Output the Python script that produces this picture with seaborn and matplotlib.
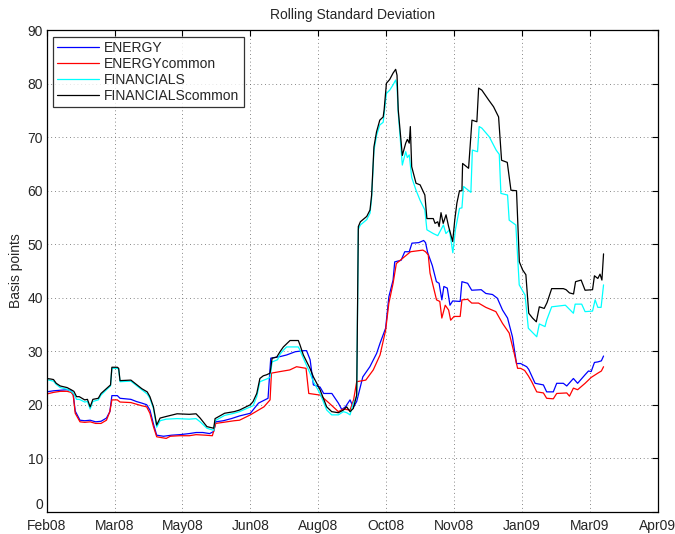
import numpy as np
import pandas as pd
import matplotlib
matplotlib.use("Agg")
import matplotlib.pyplot as plt
import matplotlib.dates as mdates
import seaborn as sns

# Day offsets from 1 Feb 2008 and rolling std (basis points) per series
energy_days = [0, 5, 10, 15, 18, 19.5, 21, 24.5, 28, 32, 36, 40, 44, 46.5, 48, 52, 54, 62, 66, 70,
               73.6, 76, 78.6, 81, 86, 92, 98, 105, 110, 115, 120, 123, 124.5, 130, 136, 142, 150,
               156, 163, 165, 172, 176.7, 183, 189, 191.4, 194, 196.4, 201.3, 204, 210, 214.8,
               217.3, 220, 223.4, 225.8, 228.3, 232.8, 238, 243, 245.5, 249.6, 252, 255.1, 256.3,
               261, 263.7, 267, 269, 274, 277.6, 279, 280.5, 284, 287, 289, 291, 292.5, 295, 297,
               299, 304.5, 305.8, 310, 313, 320, 323.4, 328.3, 331.9, 335.7, 339.4, 343, 346, 349,
               353.5, 355, 359.7, 365.8, 368.2, 373.1, 375.6, 380.5, 383, 387.9, 391, 396.5, 399,
               401, 403.4, 405.9, 408.5, 410.1]
energy = [22.4, 22.6, 22.7, 22.8, 22.6, 22.0, 18.8, 17.1, 17.0, 17.1, 16.8, 16.9, 17.5, 18.7, 21.7,
          21.7, 21.2, 21.0, 20.6, 20.3, 20.0, 19.0, 16.4, 14.3, 14.1, 14.3, 14.4, 14.6, 14.8, 14.8,
          14.6, 15.0, 16.8, 17.0, 17.4, 17.9, 18.4, 20.3, 21.2, 28.7, 29.0, 29.3, 29.9, 30.1, 30.1,
          28.4, 23.7, 23.3, 22.1, 22.1, 20.3, 19.1, 19.6, 20.9, 19.5, 20.6, 25.2, 27.1, 29.6, 31.5,
          34.3, 40.2, 43.3, 46.7, 47.0, 48.6, 48.6, 50.2, 50.3, 50.7, 50.3, 48.5, 46.0, 43.0, 42.7,
          39.6, 42.1, 41.8, 38.6, 39.4, 39.3, 43.0, 42.7, 41.4, 41.5, 40.8, 40.6, 39.9, 37.7, 36.2,
          32.7, 27.7, 27.7, 27.1, 26.6, 24.0, 23.7, 22.4, 22.4, 24.0, 24.0, 23.5, 24.9, 24.0, 25.6,
          26.3, 26.2, 27.9, 28.0, 28.2, 29.1]

energy_common_days = [0, 5, 10, 15, 18, 19.5, 21, 24.5, 28, 32, 36, 40, 44, 46.5, 48, 52, 54, 62,
                      66, 70, 73.6, 76, 78.6, 81, 88, 91, 98, 105, 110, 117, 122, 124.5, 130, 138,
                      142, 150, 160, 164.5, 165.5, 172, 179, 184, 191, 193, 201.3, 208, 214.8,
                      218.5, 223.4, 226, 228.3, 235, 240.5, 245.5, 249.6, 252, 255.1, 257.5, 263.7,
                      268, 277, 279, 281, 282.3, 287.1, 289.5, 291, 293.5, 296, 297.5, 300, 304.5,
                      305.8, 310, 313, 318, 323.4, 330.8, 335.7, 340.6, 344.3, 346.8, 349, 352,
                      354.7, 357.2, 360.9, 365.8, 368.2, 373.1, 375.6, 383, 385, 387.9, 391, 396.5,
                      401, 405.9, 408.5, 410.1]
energy_common = [22.0, 22.3, 22.5, 22.5, 22.3, 21.8, 18.4, 16.8, 16.7, 16.8, 16.5, 16.5, 17.1, 18.7,
                 20.9, 20.9, 20.5, 20.4, 20.1, 19.8, 19.6, 18.4, 15.9, 14.0, 13.7, 14.1, 14.2, 14.2,
                 14.4, 14.3, 14.2, 16.5, 16.7, 17.0, 17.1, 18.1, 19.6, 20.9, 25.9, 26.2, 26.5, 27.1,
                 26.8, 22.1, 21.8, 20.3, 18.7, 19.2, 19.0, 20.9, 24.3, 24.6, 26.5, 29.3, 33.9, 39.0,
                 42.7, 46.4, 47.7, 48.6, 48.9, 48.6, 48.0, 44.6, 39.6, 39.3, 36.2, 38.6, 37.7, 35.8,
                 36.5, 36.5, 39.6, 39.7, 39.0, 39.0, 38.2, 37.4, 35.2, 33.4, 29.6, 26.8, 26.8, 26.4,
                 25.4, 24.3, 22.4, 22.2, 21.2, 21.1, 22.1, 22.2, 21.6, 23.1, 22.8, 24.0, 25.1, 25.9,
                 26.3, 27.1]

financials_days = [0, 5, 7, 10, 15, 18, 20, 22, 24, 28, 30, 32, 34, 38, 40, 44, 47, 48, 52, 53, 54,
                   62, 66, 70, 74, 76, 78.6, 81, 83.5, 88, 96, 105, 110, 113, 118, 123, 124, 131,
                   138, 142, 150, 152, 154.7, 157, 162, 164.5, 166, 170, 172, 174.3, 176.7, 185.3,
                   186.5, 189, 193.9, 196.4, 201.3, 206.2, 209.9, 214.8, 218.5, 221, 223.4, 225.8,
                   228.3, 229.5, 231, 235.7, 238.1, 239.3, 241, 242.9, 245.3, 247.8, 250.2, 252.6,
                   255.1, 257, 258, 258.9, 261.9, 264.4, 265.6, 267, 268.8, 272, 275, 278.5, 280,
                   284.7, 288, 292.2, 294, 296.6, 299.1, 301, 304, 305.8, 307, 312.4, 313.5, 317.3,
                   318.5, 320.5, 325.9, 331, 333.3, 334.5, 339.4, 340.6, 345.5, 348, 352.3, 354.7,
                   360.9, 362.8, 367, 368.2, 371.9, 382, 387.9, 389.2, 394, 396.5, 402, 403.9,
                   405.9, 408.3, 410.1]
financials = [24.7, 24.4, 23.8, 23.2, 22.9, 22.5, 22.0, 21.0, 21.0, 20.5, 20.6, 19.2, 20.6, 20.9,
              21.8, 22.8, 23.5, 26.8, 26.8, 26.6, 24.3, 24.4, 23.6, 22.8, 22.0, 21.2, 19.3, 15.8,
              17.0, 17.3, 17.4, 17.3, 17.4, 16.8, 15.6, 15.2, 17.0, 18.0, 18.4, 18.7, 19.6, 19.8,
              21.5, 24.3, 24.8, 25.1, 28.0, 28.4, 29.5, 30.2, 30.8, 30.8, 30.2, 28.7, 25.9, 24.3,
              22.1, 19.0, 18.1, 18.1, 18.7, 18.5, 18.1, 20.3, 21.5, 52.8, 53.6, 54.6, 55.8, 58.6,
              67.5, 70.3, 72.3, 72.8, 78.2, 78.8, 79.8, 80.7, 79.5, 74.5, 64.8, 67.3, 66.2, 66.7,
              62.5, 60.1, 58.2, 56.4, 52.7, 52.0, 51.6, 53.6, 52.0, 52.7, 48.4, 52.7, 56.7, 56.8,
              60.8, 59.7, 67.6, 67.3, 72.0, 71.7, 70.1, 67.6, 66.8, 59.5, 59.2, 54.5, 53.6, 42.4,
              40.5, 34.3, 32.7, 35.1, 34.6, 35.8, 38.3, 38.6, 37.1, 38.8, 38.8, 37.4, 37.5, 39.6,
              38.2, 38.2, 42.4]

financials_common_days = [0, 3, 5, 7, 10, 15, 18, 20, 22, 24, 28, 30, 32, 34, 38, 40, 44, 47, 48,
                          52, 53, 54, 62, 66, 70, 74, 76, 78.6, 81, 83.5, 88, 96, 105, 110, 113,
                          118, 123, 124, 131, 138, 142, 150, 152, 154.7, 157, 159.5, 162, 164.5,
                          166, 169.4, 171.8, 174.3, 176.7, 179.2, 185.3, 186.5, 189, 193.9, 196.4,
                          198.9, 201.3, 206.2, 209.9, 214.8, 218.5, 220.9, 223.4, 225.8, 228.3,
                          229.5, 231, 235.7, 238.1, 239.3, 241, 242.9, 245.3, 247.8, 248.5, 250.2,
                          252.6, 255.1, 257, 258, 258.9, 261.9, 264.4, 265.6, 267, 267.8, 268.8,
                          272, 275, 278.5, 280, 284.7, 286, 288, 289, 290.4, 292, 294.1, 296, 299,
                          300.5, 302.1, 304, 305.8, 306.3, 310.7, 313.2, 316.8, 318.1, 320.5,
                          325.4, 329.1, 332.8, 334, 335, 339.2, 341.9, 346, 348.1, 350.5, 352.9,
                          355, 357.8, 360.6, 362.8, 366.4, 368.5, 371.9, 380.5, 382.5, 385, 388,
                          389.5, 393.6, 396.5, 402, 403.4, 405.9, 407.5, 408.9, 410.1]
financials_common = [24.9, 24.8, 24.7, 24.0, 23.5, 23.2, 22.8, 22.5, 21.5, 21.5, 20.9, 21.0, 19.6,
                     21.0, 21.2, 22.1, 23.0, 23.7, 27.0, 27.0, 26.8, 24.5, 24.6, 23.8, 23.0, 22.4,
                     21.5, 19.6, 16.2, 17.5, 17.8, 18.3, 18.2, 18.3, 17.5, 15.9, 15.6, 17.4, 18.4,
                     18.7, 19.0, 20.0, 20.6, 22.1, 24.9, 25.4, 25.6, 25.9, 28.7, 28.9, 29.9, 30.8,
                     31.4, 32.0, 32.0, 31.2, 29.3, 26.8, 25.2, 24.0, 22.8, 19.6, 18.7, 18.5, 19.0,
                     19.6, 18.7, 19.3, 21.8, 53.3, 54.2, 55.2, 56.4, 59.2, 68.2, 71.0, 73.2, 73.8,
                     75.1, 80.1, 80.8, 82.0, 82.7, 81.6, 75.1, 66.6, 68.9, 69.6, 68.9, 72.0, 64.5,
                     61.4, 61.1, 59.2, 54.8, 54.8, 53.9, 54.2, 53.3, 55.9, 53.9, 55.5, 53.3, 50.5,
                     54.5, 57.7, 60.0, 60.0, 65.1, 64.2, 73.2, 72.9, 79.2, 78.8, 77.0, 75.7, 73.8,
                     69.5, 65.7, 65.3, 60.1, 60.0, 46.7, 45.2, 44.3, 37.1, 36.2, 35.5, 38.3, 38.0,
                     39.1, 41.7, 41.7, 41.5, 40.9, 40.7, 43.0, 43.3, 41.4, 41.5, 44.1, 43.6, 44.4,
                     43.3, 48.2]

series_names = ["ENERGY", "ENERGYcommon", "FINANCIALS", "FINANCIALScommon"]
series_colors = ["#0000ff", "#ff0000", "#00ffff", "#000000"]
start = pd.Timestamp("2008-02-01")
tick_step_days = 50
n_ticks = 10

frames = []
for name, days, vals in zip(series_names,
                            [energy_days, energy_common_days, financials_days, financials_common_days],
                            [energy, energy_common, financials, financials_common]):
    frames.append(pd.DataFrame({
        "date": start + pd.to_timedelta(np.asarray(days, dtype=float), unit="D"),
        "bp": vals,
        "series": name,
    }))
df = pd.concat(frames, ignore_index=True)

sns.set_style("white")
plt.rcParams["font.family"] = ["Liberation Sans", "DejaVu Sans"]
plt.rcParams["xtick.direction"] = "in"
plt.rcParams["ytick.direction"] = "in"

fig = plt.figure(figsize=(6.75, 5.34), dpi=100)
ax = fig.add_axes([0.0692, 0.0418, 0.9052, 0.9015])

sns.lineplot(data=df, x="date", y="bp", hue="series", hue_order=series_names,
             palette=dict(zip(series_names, series_colors)), estimator=None,
             linewidth=0.9, ax=ax, legend=True)

tick_dates = [start + pd.Timedelta(days=tick_step_days * k) for k in range(n_ticks)]
ax.set_xlim(tick_dates[0], tick_dates[-1])
ax.set_xticks(tick_dates)
ax.xaxis.set_major_formatter(mdates.DateFormatter("%b%y"))
ax.set_ylim(0, 90)
ax.set_yticks(range(0, 91, 10))

ax.grid(True, linestyle=(0, (1, 3.5)), color="#606060", linewidth=0.6)
ax.tick_params(axis="both", which="both", labelsize=10, length=4, width=0.8, color="black",
               top=True, right=True)
ax.tick_params(axis="x", pad=5)
ax.tick_params(axis="y", pad=2.5)
for sp in ax.spines.values():
    sp.set_color("black")
    sp.set_linewidth(0.9)

# lift the bottom y label a touch so it sits just above the first date label
ylabels = ax.get_yticklabels()
ylabels[0].set_verticalalignment("bottom")

ax.set_title("Rolling Standard Deviation", fontsize=10, pad=8)
ax.set_xlabel("")
ax.set_ylabel("Basis points", fontsize=10, labelpad=3)

handles, labels = ax.get_legend_handles_labels()
leg = ax.legend(handles, labels, loc="upper left", bbox_to_anchor=(0.0098, 0.9867), fontsize=10,
                frameon=True, fancybox=False, edgecolor="black", handlelength=3.0,
                handletextpad=0.4, borderpad=0.3, labelspacing=0.15, borderaxespad=0)
leg.get_frame().set_linewidth(0.9)
for line in leg.get_lines():
    line.set_linewidth(0.9)

fig.savefig("out.png", dpi=100)
